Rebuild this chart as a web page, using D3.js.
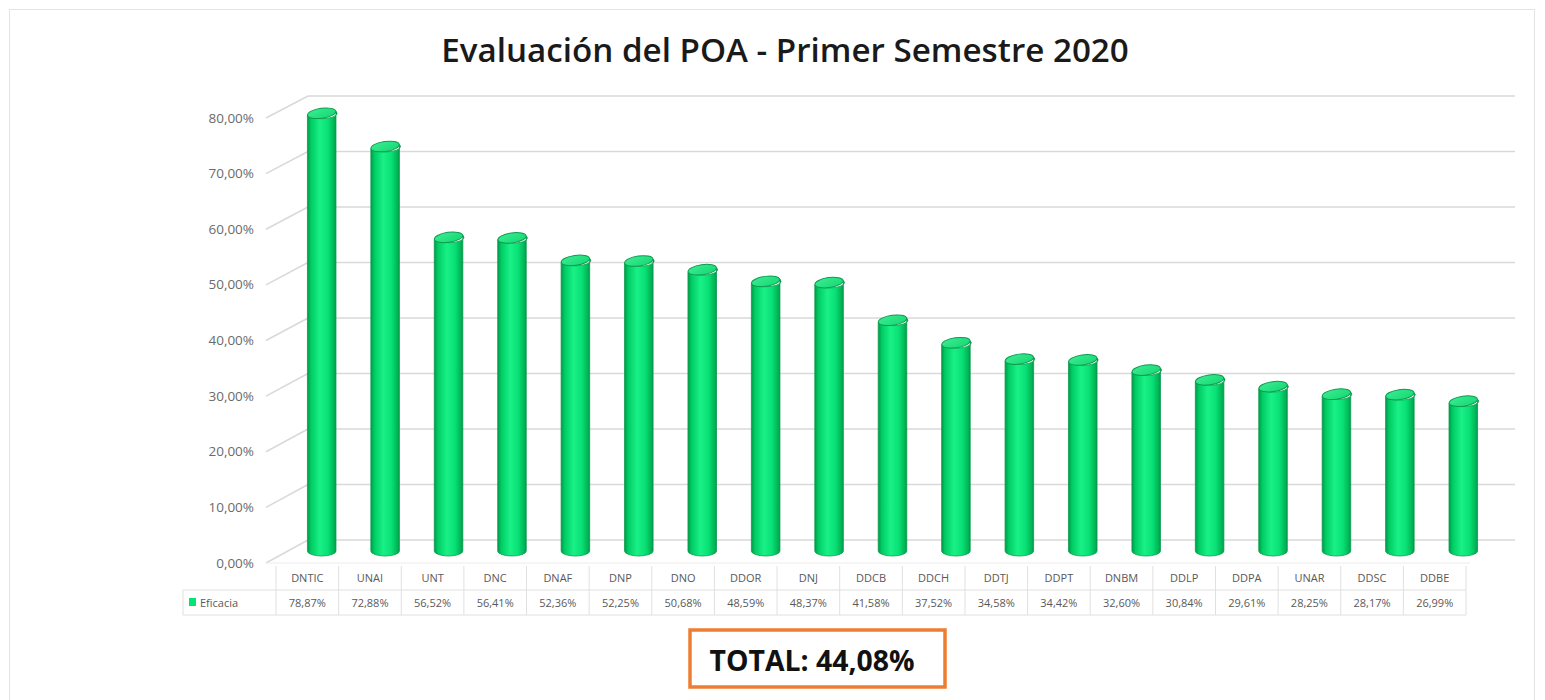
<!DOCTYPE html>
<html><head><meta charset="utf-8">
<script src="https://cdn.jsdelivr.net/npm/d3@7"></script>
<style>body{margin:0;background:#fff;}svg{display:block;}</style>
</head><body>
<svg id="c" width="1545" height="700"></svg>
<script>
const categories = ["DNTIC","UNAI","UNT","DNC","DNAF","DNP","DNO","DDOR","DNJ","DDCB","DDCH","DDTJ","DDPT","DNBM","DDLP","DDPA","UNAR","DDSC","DDBE"];
const eficacia = [78.87,72.88,56.52,56.41,52.36,52.25,50.68,48.59,48.37,41.58,37.52,34.58,34.42,32.60,30.84,29.61,28.25,28.17,26.99];
const yTicks = [0,10,20,30,40,50,60,70,80];
const seriesName = "Eficacia";
const titleText = "Evaluación del POA - Primer Semestre 2020";
const totalText = "TOTAL: 44,08%";

const svg = d3.select("#c");
const fmt = v => d3.format(".2f")(v).replace(".", ",") + "%";
const FONT = "'Open Sans', Lato, sans-serif";

function fitText(sel, target) {
  const w = sel.node().getComputedTextLength();
  const fs = parseFloat(sel.attr("font-size"));
  sel.attr("font-size", fs * target / w);
}

// outer frame
svg.append("rect").attr("x",9.5).attr("y",9.5).attr("width",1525).attr("height",700).attr("fill","none").attr("stroke","#e3e3e3");

// title
const title = svg.append("text").attr("x",785).attr("y",62).attr("text-anchor","middle")
  .attr("font-family",FONT).attr("font-weight",600).attr("font-size",30).attr("fill","#1a1a1a").text(titleText);
fitText(title, 688);

// scales
const yFront = d3.scaleLinear().domain([0,80]).range([563,118]);
const yBack = d3.scaleLinear().domain([0,80]).range([540,96]);
const yMid = d3.scaleLinear().domain([0,80]).range([551,107]);
const xTable = d3.scaleBand().domain(categories).range([276,1466]);
const xBar = d3.scaleBand().domain(categories).range([290,1495]).paddingInner(0.55).paddingOuter(0.275);

const backLeft = 308, backRight = 1515, frontLeft = 266;
const grid = svg.append("g");
yTicks.forEach(t => {
  grid.append("line").attr("x1",frontLeft).attr("y1",yFront(t)).attr("x2",backLeft).attr("y2",yBack(t)).attr("stroke","#d9d9d9").attr("stroke-width",1.5);
  grid.append("line").attr("x1",backLeft).attr("y1",yBack(t)).attr("x2",backRight).attr("y2",yBack(t)).attr("stroke","#d9d9d9").attr("stroke-width",1.5);
});
grid.append("line").attr("x1",frontLeft).attr("y1",yFront(0)).attr("x2",1470).attr("y2",yFront(0)).attr("stroke","#ececec");

// y axis labels
svg.append("g").selectAll("text").data(yTicks).join("text")
  .attr("x",254).attr("y",t=>yFront(t)+1).attr("text-anchor","end").attr("dominant-baseline","middle")
  .attr("font-family",FONT).attr("font-size",13.5).attr("fill","#6b6b6b").text(t=>fmt(t));

// gradients
const defs = svg.append("defs");
const g1 = defs.append("linearGradient").attr("id","cyl").attr("x1","0").attr("x2","1").attr("y1","0").attr("y2","0");
[[0,"#009a48"],[0.12,"#00cc64"],[0.42,"#19f086"],[0.7,"#08df74"],[0.9,"#00b456"],[1,"#008a40"]].forEach(s=>g1.append("stop").attr("offset",s[0]).attr("stop-color",s[1]));
const g2 = defs.append("linearGradient").attr("id","top").attr("x1","0").attr("x2","1").attr("y1","0").attr("y2","1");
[[0,"#3cec92"],[1,"#13d872"]].forEach(s=>g2.append("stop").attr("offset",s[0]).attr("stop-color",s[1]));

const bw = xBar.bandwidth();
const ry = 5;
const bars = svg.append("g").selectAll("g").data(categories).join("g");
bars.append("path").attr("d",(c,i)=>{
  const x0 = xBar(c), x1 = x0+bw, yt = yMid(eficacia[i]), yb = yMid(0);
  return `M${x0},${yt+2} L${x0},${yb} A${bw/2},${ry} 0 0 0 ${x1},${yb} L${x1},${yt-2} A${bw/2},${ry} 0 0 1 ${x0},${yt+2} Z`;
}).attr("fill","url(#cyl)").attr("stroke","#0b9a4e").attr("stroke-width",0.8);
bars.append("ellipse").attr("cx",0).attr("cy",0)
  .attr("transform",(c,i)=>`translate(${xBar(c)+bw/2},${yMid(eficacia[i])}) rotate(-8)`)
  .attr("rx",bw/2).attr("ry",ry).attr("fill","url(#top)").attr("stroke","#0b9a4e").attr("stroke-width",1);

// data table
const tbl = svg.append("g").attr("font-family",FONT).attr("font-size",11).attr("fill","#595959");
const r0 = 566, r1 = 590, r2 = 615;
tbl.append("line").attr("x1",183).attr("x2",1466).attr("y1",r1).attr("y2",r1).attr("stroke","#e0e0e0");
tbl.append("line").attr("x1",183).attr("x2",1466).attr("y1",r2).attr("y2",r2).attr("stroke","#e0e0e0");
tbl.append("line").attr("x1",183).attr("x2",183).attr("y1",r1).attr("y2",r2).attr("stroke","#e0e0e0");
[...categories.map(c=>xTable(c)), 1466].forEach(x=>{
  tbl.append("line").attr("x1",x).attr("x2",x).attr("y1",r0).attr("y2",r2).attr("stroke","#e0e0e0");
});
tbl.selectAll("text.cat").data(categories).join("text").attr("class","cat")
  .attr("x",c=>xTable(c)+xTable.bandwidth()/2).attr("y",582).attr("text-anchor","middle").text(c=>c);
tbl.selectAll("text.val").data(eficacia).join("text").attr("class","val")
  .attr("x",(v,i)=>xTable(categories[i])+xTable.bandwidth()/2).attr("y",607).attr("text-anchor","middle").text(v=>fmt(v));
tbl.append("rect").attr("x",189).attr("y",598).attr("width",7).attr("height",8).attr("fill","#00e676");
tbl.append("text").attr("x",200).attr("y",607).text(seriesName);

// total box
svg.append("rect").attr("x",690).attr("y",630).attr("width",255).attr("height",57)
  .attr("fill","#fff").attr("stroke","#ed7d31").attr("stroke-width",3.5);
const tot = svg.append("text").attr("x",812).attr("y",671).attr("text-anchor","middle")
  .attr("font-family",FONT).attr("font-weight",700).attr("font-size",26).attr("fill","#111").text(totalText);
fitText(tot, 205);
</script>
</body></html>
